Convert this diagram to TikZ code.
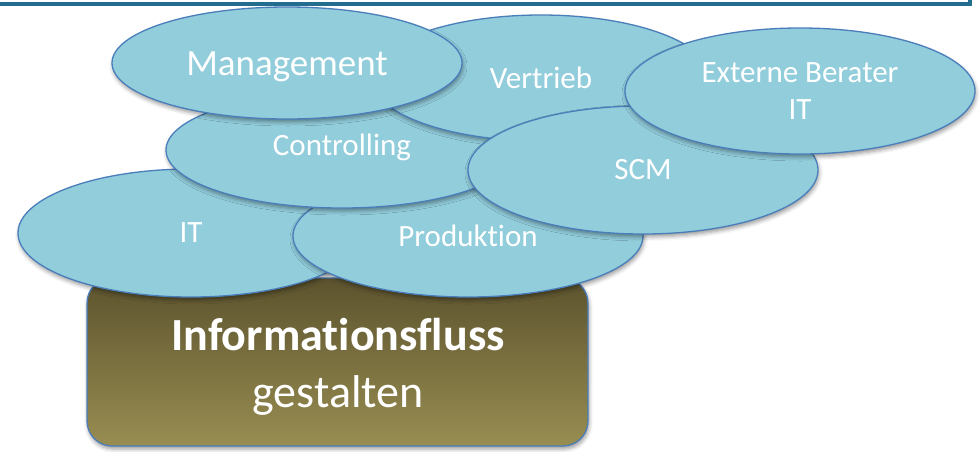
\documentclass[tikz,border=0pt]{standalone}
\usepackage{fontspec}
\setmainfont[Ligatures={NoCommon,NoRare}]{Carlito}
\usetikzlibrary{shapes.geometric,shadows.blur}

\definecolor{bubblefill}{HTML}{92CDDC}
\definecolor{bubbleline}{HTML}{4A7EBB}
\definecolor{framebar}{HTML}{236E8F}
\definecolor{boxtop}{HTML}{5C532E}
\definecolor{boxbottom}{HTML}{988D51}

\tikzset{
  softshadow/.style={blur shadow={shadow xshift=1pt,shadow yshift=-3pt,shadow blur radius=4pt,shadow opacity=40}},
  bubble/.style={ellipse,draw=bubbleline,line width=1.3pt,fill=bubblefill,text=white,inner sep=0pt,
    align=center,font=\fontsize{31}{37}\selectfont,softshadow},
}
% move a label up or down inside its bubble
\newcommand{\liftlabel}[2]{\raisebox{#1}[\height][\depth]{#2}}

\begin{document}
\begin{tikzpicture}[x=1pt,y=-1pt]
\useasboundingbox (0,0) rectangle (980,451);
% bar of the frame above
\draw[framebar,line width=4pt] (0,4)--(970,4)--(970,-1);
% base box
\node[draw=bubbleline,line width=1.3pt,rounded corners=25pt,top color=boxtop,bottom color=boxbottom,
  minimum width=501pt,minimum height=168pt,inner sep=0pt,softshadow] (base) at (337.5,362) {};
\node[text=white,align=center,font=\fontsize{46}{57}\selectfont] (baselabel) at (338,367)
  {\textbf{Informationsfluss}\\gestalten};
% the bubbles, back to front
\node[bubble,minimum width=346pt,minimum height=128pt] (it) at (191,233) {IT};
\node[bubble,minimum width=350pt,minimum height=122pt] (prod) at (468,236) {Produktion};
\node[bubble,minimum width=352pt,minimum height=116pt] (ctrl) at (342,150) {\liftlabel{3pt}{Controlling}};
\node[bubble,minimum width=340pt,minimum height=126pt] (vertrieb) at (541,78) {Vertrieb};
\node[bubble,minimum width=350pt,minimum height=112pt,font=\fontsize{37}{40}\selectfont] (mgmt) at (287,63) {\liftlabel{-4pt}{Management}};
\node[bubble,minimum width=350pt,minimum height=128pt] (scm) at (643,170) {SCM};
\node[bubble,minimum width=350pt,minimum height=126pt] (extern) at (800,91) {Externe Berater\\IT};
\end{tikzpicture}
\end{document}
